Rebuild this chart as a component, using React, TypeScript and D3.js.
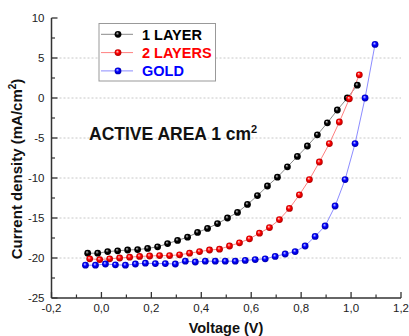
import React from "react";
import * as d3 from "d3";

const width = 409;
const height = 336;

const seriesNames = ["1 LAYER", "2 LAYERS", "GOLD"];
const seriesColors = ["#000000", "#ff0000", "#0000ff"];
const lineColors = ["#8a8a8a", "#ff8080", "#8c8cff"];
const ballLight = ["#d0d0d0", "#ffd0d0", "#d0d0ff"];
const ballDark = ["#000000", "#a00000", "#0000a0"];

const voltage1 = [
  -0.055, -0.015, 0.025, 0.065, 0.105, 0.145, 0.185, 0.225, 0.265, 0.305,
  0.345, 0.385, 0.425, 0.465, 0.505, 0.545, 0.585, 0.625, 0.665, 0.705,
  0.745, 0.785, 0.825, 0.865, 0.905, 0.945, 0.985, 1.025
];
const current1 = [
  -19.4, -19.4, -19.2, -19.1, -19.0, -18.95, -18.8, -18.6, -18.2, -17.8,
  -17.4, -16.8, -16.3, -15.7, -15.0, -14.3, -13.3, -12.2, -11.0, -9.9,
  -8.6, -7.3, -6.0, -4.6, -3.1, -1.5, 0.0, 1.6
];

const voltage2 = [
  -0.047, -0.007, 0.033, 0.073, 0.113, 0.153, 0.193, 0.233, 0.273, 0.313,
  0.353, 0.393, 0.433, 0.473, 0.513, 0.553, 0.593, 0.633, 0.673, 0.713,
  0.753, 0.793, 0.833, 0.873, 0.913, 0.953, 0.993, 1.033
];
const current2 = [
  -20.1, -20.2, -20.1, -20.0, -19.9, -19.8, -19.75, -19.7, -19.7, -19.6,
  -19.4, -19.2, -19.0, -18.9, -18.5, -18.1, -17.6, -16.9, -16.2, -15.2,
  -13.8, -12.1, -10.2, -8.0, -5.7, -3.0, -0.1, 2.9
];

const voltage3 = [
  -0.064, -0.024, 0.016, 0.056, 0.096, 0.136, 0.176, 0.216, 0.256, 0.296,
  0.336, 0.376, 0.416, 0.456, 0.496, 0.536, 0.576, 0.616, 0.656, 0.696,
  0.736, 0.776, 0.816, 0.856, 0.896, 0.936, 0.976, 1.016, 1.056, 1.096
];
const current3 = [
  -20.9, -20.9, -20.75, -20.85, -20.9, -20.75, -20.65, -20.7, -20.7, -20.75,
  -20.4, -20.5, -20.4, -20.4, -20.4, -20.4, -20.3, -20.2, -20.1, -19.8,
  -19.5, -19.2, -18.5, -17.3, -16.0, -13.5, -10.2, -5.7, 0.0, 6.7
];

const xTicks = [-0.2, 0, 0.2, 0.4, 0.6, 0.8, 1.0, 1.2];
const yTicks = [-25, -20, -15, -10, -5, 0, 5, 10];
const gridValues = [-20, -15, -10, -5, 0, 5];

const font = "'Liberation Sans', Arial, sans-serif";

export default function App() {
  const x = d3.scaleLinear().domain([-0.2, 1.2]).range([51.5, 401]);
  const y = d3.scaleLinear().domain([-25, 10]).range([298, 18]);

  const series = [
    { v: voltage1, j: current1 },
    { v: voltage2, j: current2 },
    { v: voltage3, j: current3 }
  ].map((s) => s.v.map((v, i) => [v, s.j[i]] as [number, number]));

  const line = d3
    .line<[number, number]>()
    .x((d) => x(d[0]))
    .y((d) => y(d[1]));

  const xMinor = d3.range(0, xTicks.length - 1).map((i) => (xTicks[i] + xTicks[i + 1]) / 2);
  const yMinor = d3.range(0, yTicks.length - 1).map((i) => (yTicks[i] + yTicks[i + 1]) / 2);
  const fmt = (v: number) => d3.format(".1f")(v).replace(".", ",").replace("−", "-");

  const x0 = x(-0.2);
  const yBase = y(-25);

  return (
    <svg
      width={width}
      height={height}
      style={{ position: "absolute", left: 0, top: 0, background: "#fff" }}
      fontFamily={font}
    >
      <defs>
        {seriesColors.map((c, i) => (
          <radialGradient key={i} id={`ball${i}`} cx="50%" cy="50%" r="55%" fx="38%" fy="32%">
            <stop offset="0%" stopColor={ballLight[i]} />
            <stop offset="45%" stopColor={c} />
            <stop offset="100%" stopColor={ballDark[i]} />
          </radialGradient>
        ))}
      </defs>

      {gridValues.map((g) => (
        <line
          key={g}
          x1={x0}
          x2={x(1.2)}
          y1={y(g)}
          y2={y(g)}
          stroke="#c8c8c8"
          strokeWidth={1}
          strokeDasharray="2,2"
        />
      ))}

      {/* axes */}
      <line x1={x0} x2={x0} y1={y(10)} y2={yBase} stroke="#333" strokeWidth={1.5} />
      <line x1={x0} x2={x(1.2)} y1={yBase} y2={yBase} stroke="#333" strokeWidth={1.5} />
      {yTicks.map((t) => (
        <g key={t}>
          <line x1={x0} x2={x0 + 6} y1={y(t)} y2={y(t)} stroke="#333" strokeWidth={1.3} />
          <text x={x0 - 7} y={y(t) + 4} textAnchor="end" fontSize={11.5} fill="#222">
            {t}
          </text>
        </g>
      ))}
      {yMinor.map((t) => (
        <line key={t} x1={x0} x2={x0 + 3.5} y1={y(t)} y2={y(t)} stroke="#333" strokeWidth={1.2} />
      ))}
      {xTicks.map((t) => (
        <g key={t}>
          <line x1={x(t)} x2={x(t)} y1={yBase} y2={yBase - 6} stroke="#333" strokeWidth={1.3} />
          <text x={x(t)} y={yBase + 14} textAnchor="middle" fontSize={11.5} fill="#222">
            {fmt(t)}
          </text>
        </g>
      ))}
      {xMinor.map((t) => (
        <line key={t} x1={x(t)} x2={x(t)} y1={yBase} y2={yBase - 3.5} stroke="#333" strokeWidth={1.2} />
      ))}

      {/* axis titles */}
      <text x={226} y={333} textAnchor="middle" fontSize={14.5} fontWeight="bold" fill="#111">
        Voltage (V)
      </text>
      <text
        transform={`translate(22, 169) rotate(-90)`}
        textAnchor="middle"
        fontSize={15}
        fontWeight="bold"
        fill="#111"
      >
        Current density (mA/cm<tspan dy={-6} fontSize={10}>2</tspan>
        <tspan dy={6}>)</tspan>
      </text>

      {/* series */}
      {series.map((s, i) => (
        <path key={i} d={line(s) || ""} fill="none" stroke={lineColors[i]} strokeWidth={1} />
      ))}
      {series.map((s, i) => (
        <g key={i}>
          {s.map((d, k) => (
            <circle key={k} cx={x(d[0])} cy={y(d[1])} r={3.4} fill={`url(#ball${i})`} />
          ))}
        </g>
      ))}

      {/* annotation */}
      <text x={89} y={139.5} fontSize={17.5} fontWeight="bold" fill="#111">
        ACTIVE AREA 1 cm<tspan dy={-7} fontSize={11}>2</tspan>
      </text>

      {/* legend */}
      <rect x={99} y={23.5} width={116.5} height={57.5} fill="#fff" stroke="#999" strokeWidth={1} />
      {seriesNames.map((n, i) => {
        const ry = 34.3 + i * 18.3;
        return (
          <g key={n}>
            <line x1={101} x2={133} y1={ry} y2={ry} stroke={lineColors[i]} strokeWidth={1} />
            <circle cx={118} cy={ry} r={3.4} fill={`url(#ball${i})`} />
            <text x={142} y={ry + 5.2} fontSize={14.5} fontWeight="bold" fill={seriesColors[i]}>
              {n}
            </text>
          </g>
        );
      })}
    </svg>
  );
}
